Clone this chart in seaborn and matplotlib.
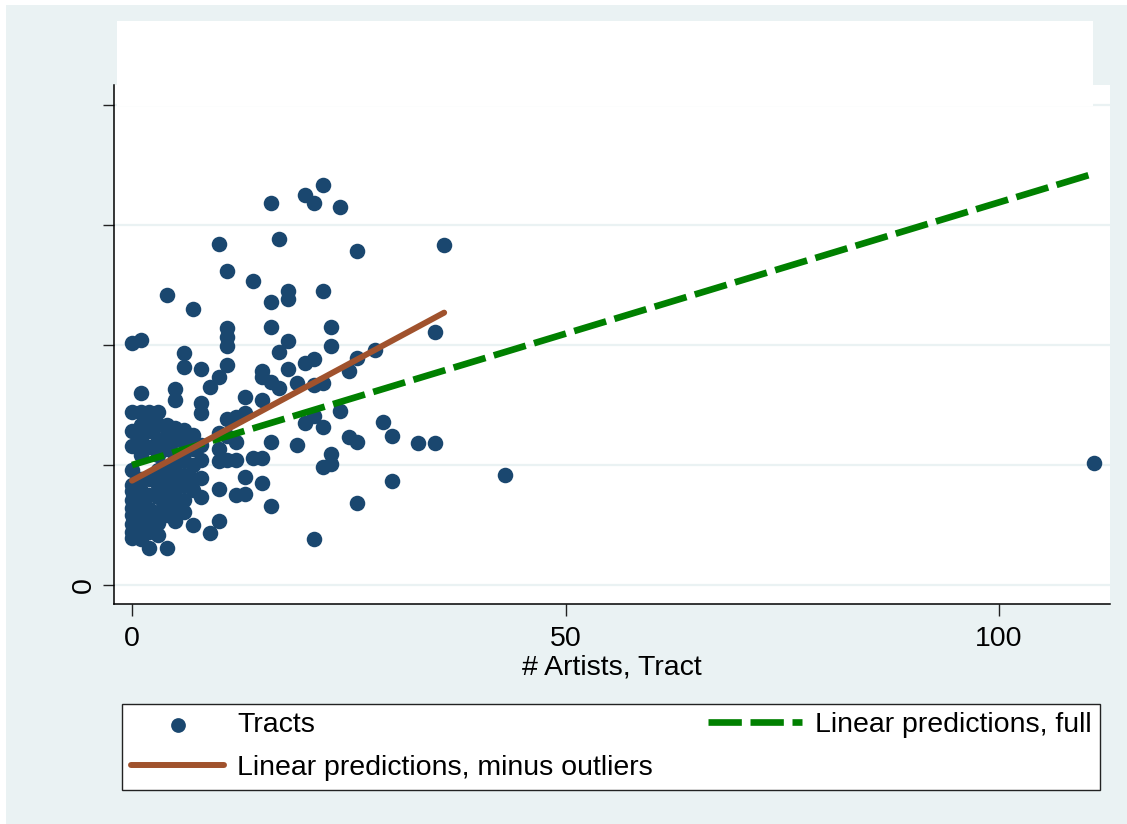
import matplotlib.pyplot as plt
import seaborn as sns
from matplotlib.patches import Rectangle

# Tracts: number of artists in the tract and the (unlabelled) outcome
artists = [
    0, 0, 0, 0, 0, 0, 0, 0, 0, 0, 0, 0, 0,
    1, 1, 1, 1, 1, 1, 1, 1, 1, 1, 1, 1, 1,
    2, 2, 2, 2, 2, 2, 2, 2, 2, 2,
    3, 3, 3, 3, 3, 3, 3, 3, 3, 3,
    4, 4, 4, 4, 4, 4, 4, 4, 4, 4,
    5, 5, 5, 5, 5, 5, 5, 5, 5, 5, 5,
    6, 6, 6, 6, 6, 6, 6, 6, 6,
    7, 7, 7, 7, 7, 7, 7,
    8, 8, 8, 8, 8, 8, 8,
    9, 9,
    10, 10, 10, 10, 10, 10, 10,
    11, 11, 11, 11, 11, 11, 11, 11,
    12, 12, 12, 12,
    13, 13, 13, 13,
    14, 14,
    15, 15, 15, 15, 15,
    16, 16, 16, 16, 16, 16,
    17, 17, 17,
    18, 18, 18, 18,
    19, 19,
    20, 20, 20,
    21, 21, 21, 21, 21,
    22, 22, 22, 22, 22,
    23, 23, 23, 23,
    24, 24,
    25, 25,
    26, 26, 26, 26,
    28, 29, 30, 30, 33, 35, 35, 36, 43, 111,
]
outcome = [
    2.02, 1.44, 1.28, 1.16, 0.96, 0.83, 0.78, 0.71, 0.64, 0.58, 0.51, 0.44, 0.39,
    2.04, 1.60, 1.44, 1.33, 1.21, 1.08, 0.88, 0.78, 0.67, 0.58, 0.50, 0.42, 0.38,
    1.44, 1.38, 1.28, 1.15, 0.88, 0.75, 0.63, 0.53, 0.44, 0.31,
    1.44, 1.33, 1.21, 1.08, 0.96, 0.83, 0.73, 0.61, 0.52, 0.42,
    2.42, 1.33, 1.25, 1.13, 0.96, 0.88, 0.79, 0.67, 0.58, 0.31,
    1.63, 1.54, 1.31, 1.21, 1.08, 1.00, 0.89, 0.79, 0.71, 0.63, 0.53,
    1.93, 1.82, 1.29, 1.19, 1.04, 0.92, 0.83, 0.71, 0.61,
    2.30, 1.25, 1.13, 1.00, 0.88, 0.79, 0.50,
    1.80, 1.52, 1.43, 1.17, 1.04, 0.89, 0.73,
    1.65, 0.43,
    2.84, 1.73, 1.27, 1.13, 1.03, 0.80, 0.53,
    2.62, 2.14, 2.07, 1.99, 1.83, 1.38, 1.24, 1.04,
    1.40, 1.19, 1.04, 0.75,
    1.57, 1.43, 0.90, 0.76,
    2.53, 1.06,
    1.78, 1.73, 1.54, 1.06, 0.85,
    3.18, 2.36, 2.15, 1.69, 1.19, 0.66,
    2.88, 1.94, 1.64,
    2.45, 2.38, 2.03, 1.80,
    1.68, 1.17,
    3.25, 1.85, 1.35,
    3.18, 1.88, 1.67, 1.41, 0.38,
    3.33, 2.45, 1.68, 1.32, 0.98,
    2.15, 1.99, 1.09, 1.01,
    3.15, 1.45,
    1.78, 1.23,
    2.78, 1.89, 1.19, 0.68,
    1.96, 1.36, 1.24, 0.87, 1.18, 2.11, 1.18, 2.83, 0.92, 1.02,
]

# fitted lines (endpoints of the linear predictions)
full_x = [0, 111]
full_y = [1.00, 3.43]
trim_x = [0, 36]
trim_y = [0.87, 2.27]

y_ticks = [0, 1, 2, 3, 4]
y_ticklabels = ["0", "", "", "", ""]
x_ticks = [0, 50, 100]

BG = "#EAF2F3"
NAVY = "#1A476F"
GREEN = "#008000"
SIENNA = "#A0522D"

sns.set_style("white")
plt.rcParams["font.family"] = ["Liberation Sans", "DejaVu Sans"]
plt.rcParams["text.color"] = "black"
FS = 20.5

fig = plt.figure(figsize=(11.27, 8.24), dpi=100)
fig.patch.set_facecolor("white")
fig.patches.append(Rectangle((6 / 1127, 0), 1, 1 - 5 / 824, transform=fig.transFigure,
                             facecolor=BG, edgecolor="none", zorder=-1))

ax = fig.add_axes([114 / 1127, 1 - 604 / 824, 996 / 1127, 519 / 824])
ax.set_facecolor("white")

for yt in y_ticks:
    ax.axhline(yt, color=BG, lw=1.6, zorder=0)

sns.scatterplot(x=artists, y=outcome, ax=ax, color=NAVY, s=125, linewidth=0,
                label="Tracts", zorder=3)
sns.lineplot(x=full_x, y=full_y, ax=ax, color=GREEN, lw=4.8, linestyle=(0, (5.0, 1.3)),
             label="Linear predictions, full", zorder=4)
sns.lineplot(x=trim_x, y=trim_y, ax=ax, color=SIENNA, lw=4.3,
             label="Linear predictions, minus outliers", zorder=5)

ax.set_xlim(-2.08, 112.8)
ax.set_ylim(-0.158, 4.167)
ax.set_xticks(x_ticks)
ax.set_xticklabels([str(t) for t in x_ticks], fontsize=FS)
ax.set_yticks(y_ticks)
ax.set_yticklabels(y_ticklabels, fontsize=FS, rotation=90, va="center")
ax.tick_params(axis="both", bottom=True, left=True, length=8, width=1.0,
               color="#222222", labelcolor="black")
ax.tick_params(axis="x", length=8.5, pad=7)
ax.tick_params(axis="y", pad=4)
ax.set_xlabel("# Artists, Tract", fontsize=FS, labelpad=2, color="black")
ax.set_ylabel("")

for side in ["top", "right"]:
    ax.spines[side].set_visible(False)
for side in ["left", "bottom"]:
    ax.spines[side].set_color("black")
    ax.spines[side].set_linewidth(1.1)

handles, labels = ax.get_legend_handles_labels()
ax.get_legend().remove()
order = [0, 2, 1]
leg = ax.legend([handles[i] for i in order], [labels[i] for i in order],
                ncol=2, mode="expand", fontsize=FS,
                bbox_to_anchor=(122 / 1127, 1 - 790 / 824, 978 / 1127, 93 / 824),
                bbox_transform=fig.transFigure, loc="lower left",
                frameon=True, fancybox=False, edgecolor="#222222",
                facecolor="white", framealpha=1,
                borderpad=0.3, labelspacing=0.6, handlelength=3.3,
                handletextpad=0.45, markerscale=0.95, borderaxespad=0)
leg.get_frame().set_linewidth(1.0)
leg.set_zorder(20)

# blank band above the plot region
fig.patches.append(Rectangle((117 / 1127, 1 - 106 / 824), 976 / 1127, 85 / 824,
                             transform=fig.transFigure, facecolor="white",
                             edgecolor="none", zorder=10))

plt.savefig("out.png", dpi=100, facecolor=fig.get_facecolor())
plt.close()
